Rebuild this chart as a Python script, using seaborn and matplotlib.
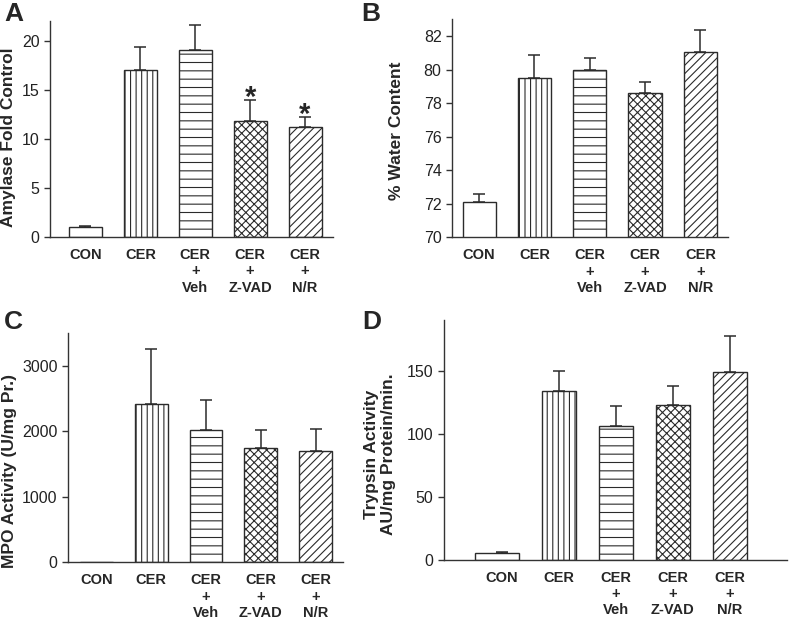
import numpy as np
import matplotlib
matplotlib.use('Agg')
import matplotlib.pyplot as plt
import seaborn as sns

# groups and bar fills
groups = ['CON', 'CER', 'CER\n+\nVeh', 'CER\n+\nZ-VAD', 'CER\n+\nN/R']
hatches = ['', '|||', '--', 'xxxx', '////']

# values (mean, upper error)
amylase = [1.0, 17.0, 19.0, 11.8, 11.2]
amylase_err = [0.1, 2.4, 2.6, 2.2, 1.0]
water = [72.1, 79.5, 79.95, 78.6, 81.05]
water_err = [0.5, 1.4, 0.75, 0.65, 1.3]
mpo = [0, 2413, 2021, 1738, 1701]
mpo_err = [0, 850, 458, 289, 336]
trypsin = [5.6, 133.5, 106.3, 122.5, 149.2]
trypsin_err = [0.5, 16.4, 15.7, 15.4, 28.0]

sns.set_style('ticks')
plt.rcParams['font.family'] = ['Liberation Sans', 'DejaVu Sans']
plt.rcParams['hatch.linewidth'] = 0.8

edge = '#2b2b2b'
fig = plt.figure(figsize=(7.89, 6.18), dpi=100)


def panel(rect, vals, errs, ylabel, ylim, yticks, xlim, label_xy):
    ax = fig.add_axes(rect)
    sns.barplot(x=groups, y=vals, ax=ax, color='white', saturation=1,
                edgecolor=edge, linewidth=1, width=0.6, errorbar=None)
    for patch, h in zip(ax.patches, hatches):
        patch.set_hatch(h)
    vals = np.asarray(vals, float)
    errs = np.asarray(errs, float)
    pos = np.arange(len(vals))
    m = errs > 0
    # upper error bars only
    ax.errorbar(pos[m], vals[m], yerr=[np.zeros(m.sum()), errs[m]], fmt='none',
                ecolor=edge, elinewidth=1.1, capsize=4, capthick=1.1, zorder=3)
    ax.set_xlim(*xlim)
    ax.set_ylim(*ylim)
    ax.set_yticks(yticks)
    sns.despine(ax=ax)
    for s in ['left', 'bottom']:
        ax.spines[s].set_linewidth(1)
        ax.spines[s].set_color('#333333')
    ax.tick_params(axis='x', length=0, pad=8, labelsize=10.5)
    for t in ax.get_xticklabels():
        t.set_fontweight('bold')
    ax.tick_params(axis='y', length=4, width=1, color='#333333', labelsize=11.5,
                   labelcolor='#222222', direction='out')
    ax.set_ylabel(ylabel, fontsize=12.5, fontweight='bold', va='center')
    ax.yaxis.set_label_coords(*label_xy)
    ax.set_xlabel('')
    return ax


axA = panel([0.0634, 0.6165, 0.3587, 0.3495], amylase, amylase_err,
            'Amylase Fold Control', (0, 22), [0, 5, 10, 15, 20],
            (-0.645, 4.51), (-0.145, 0.463))
for i in [3, 4]:
    axA.text(i, amylase[i] + amylase_err[i] - 0.6, '*', ha='center',
             va='baseline', fontsize=21, fontweight='bold')

panel([0.5729, 0.616, 0.3498, 0.3528], water, water_err,
      '% Water Content', (70, 83), [70, 72, 74, 76, 78, 80, 82],
      (-0.49, 4.5), (-0.2, 0.49))

panel([0.0862, 0.0901, 0.3485, 0.371], mpo, mpo_err,
      'MPO Activity (U/mg Pr.)', (0, 3500), [0, 1000, 2000, 3000],
      (-0.52, 4.5), (-0.211, 0.40))

axD = panel([0.5627, 0.0939, 0.4347, 0.388], trypsin, trypsin_err,
            'Trypsin Activity\nAU/mg Protein/min.', (0, 190), [0, 50, 100, 150],
            (-1.01, 5.0), (-0.187, 0.44))
# CON bar in panel D is drawn a bit wider in the original
con = axD.patches[0]
con.set_x(con.get_x() - 0.17)
con.set_width(0.77)

for letter, x, y in [('A', 4, 2), ('B', 361, 2), ('C', 4, 310), ('D', 362, 310)]:
    fig.text(x / 789, 1 - y / 618, letter, ha='left', va='top',
             fontsize=19, fontweight='bold')

fig.savefig('out.png', dpi=100)
